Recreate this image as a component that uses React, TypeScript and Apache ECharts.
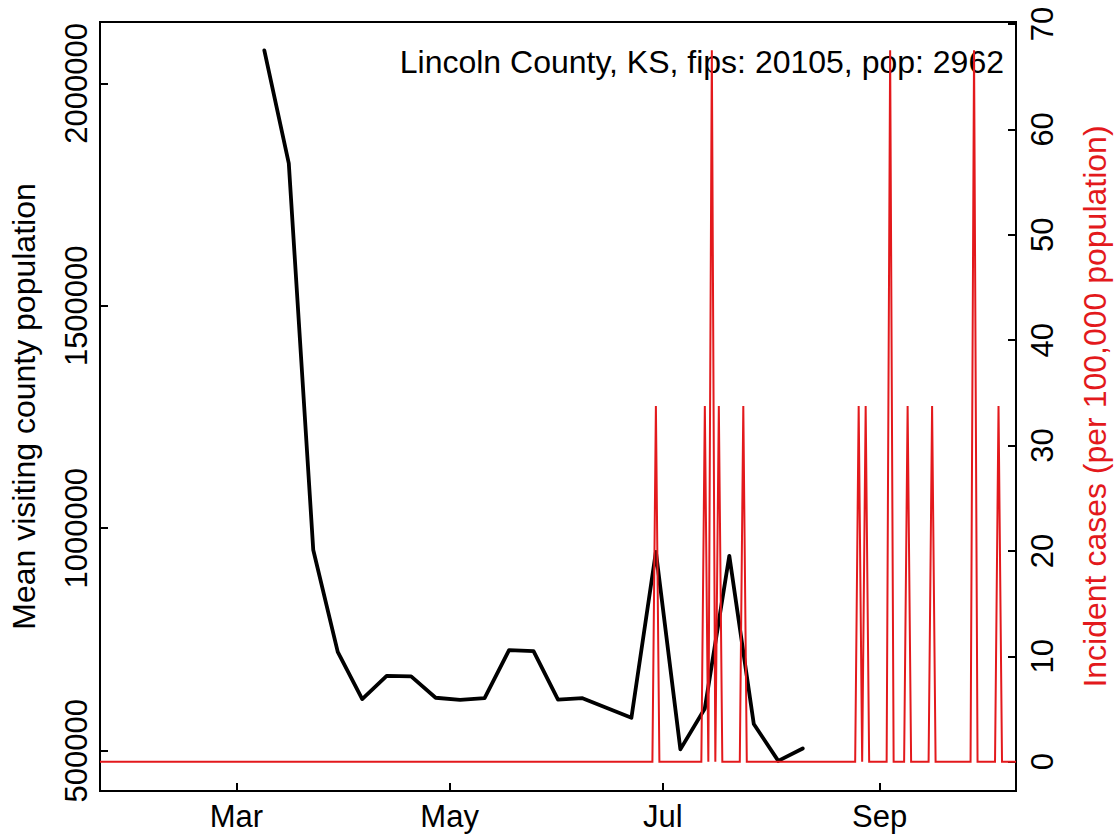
import React, { useEffect, useRef } from 'react';
import * as echarts from 'echarts';

const FONT = '"Liberation Sans", Arial, Helvetica, sans-serif';
const RED = '#e3191c';

// x range (dates)
const xAxisStart = '2020-01-22';
const xAxisEnd = '2020-10-10';
const monthTickDates = ['2020-03-01', '2020-05-01', '2020-07-01', '2020-09-01'];
const monthTickLabels = ['Mar', 'May', 'Jul', 'Sep'];

// left axis
const leftMin = 409400;
const leftMax = 2137800;
const leftTicks = [500000, 1000000, 1500000, 2000000];

// right axis
const rightMin = -2.78;
const rightMax = 70.19;
const rightTicks = [0, 10, 20, 30, 40, 50, 60, 70];

// mean visiting county population (weekly)
const visitDates = [
  '2020-03-09', '2020-03-16', '2020-03-23', '2020-03-30', '2020-04-06', '2020-04-13',
  '2020-04-20', '2020-04-27', '2020-05-04', '2020-05-11', '2020-05-18', '2020-05-25',
  '2020-06-01', '2020-06-08', '2020-06-22', '2020-06-29', '2020-07-06', '2020-07-13',
  '2020-07-20', '2020-07-27', '2020-08-03', '2020-08-10',
];
const visitValues = [
  2074000, 1820000, 951000, 722000, 616000, 668000,
  667000, 619000, 614000, 618000, 726000, 724000,
  615000, 618000, 574000, 947000, 503000, 595000,
  938000, 560000, 477000, 505000,
];

// incident cases per 100,000 (daily; all other days are 0)
const caseDates = [
  '2020-06-29', '2020-07-13', '2020-07-15', '2020-07-17', '2020-07-24', '2020-08-26',
  '2020-08-28', '2020-09-04', '2020-09-09', '2020-09-16', '2020-09-28', '2020-10-05',
];
const caseValues = [33.76, 33.76, 67.52, 33.76, 33.76, 33.76, 33.76, 67.52, 33.76, 33.76, 67.52, 33.76];

const annotation = 'Lincoln County, KS, fips: 20105, pop: 2962';
const leftTitle = 'Mean visiting county population';
const rightTitle = 'Incident cases (per 100,000 population)';

const DAY = 86400000;
// day number (days since 2020-01-01, UTC)
const day = (s: string) => (Date.parse(s + 'T00:00:00Z') - Date.parse('2020-01-01T00:00:00Z')) / DAY;

function buildDailyCases() {
  const map = new Map<number, number>();
  caseDates.forEach((d, i) => map.set(day(d), caseValues[i]));
  const out: [number, number][] = [];
  for (let t = day(xAxisStart); t <= day(xAxisEnd); t += 1) {
    out.push([t, map.get(t) ?? 0]);
  }
  return out;
}

export default function App() {
  const ref = useRef<HTMLDivElement>(null);
  useEffect(() => {
    if (!ref.current) return;
    const chart = echarts.init(ref.current, undefined, { renderer: 'svg' });
    const monthDays = monthTickDates.map(day);
    const labelMap = new Map<number, string>();
    monthDays.forEach((t, i) => labelMap.set(t, monthTickLabels[i]));

    const axisLine = { show: true, onZero: false, lineStyle: { color: '#000', width: 2 } };
    const axisTick = (vals: number[]) => ({
      show: true,
      inside: true,
      length: 8,
      customValues: vals,
      lineStyle: { color: '#000', width: 2 },
    });

    chart.setOption({
      animation: false,
      textStyle: { fontFamily: FONT },
      grid: {
        left: 99,
        right: 99,
        top: 22,
        bottom: 45,
        show: true,
        borderColor: '#000',
        borderWidth: 2,
        containLabel: false,
      },
      xAxis: {
        type: 'value',
        min: day(xAxisStart),
        max: day(xAxisEnd),
        axisLine,
        axisTick: axisTick(monthDays),
        splitLine: { show: false },
        axisLabel: {
          customValues: monthDays,
          formatter: (v: number) => labelMap.get(v) ?? '',
          color: '#000',
          fontSize: 31,
          fontFamily: FONT,
          margin: 10,
        },
      },
      yAxis: [
        {
          type: 'value',
          position: 'left',
          min: leftMin,
          max: leftMax,
          axisLine,
          axisTick: axisTick(leftTicks),
          splitLine: { show: false },
          axisLabel: {
            customValues: leftTicks,
            formatter: (v: number) => String(v),
            rotate: 90,
            color: '#000',
            fontSize: 31,
            fontFamily: FONT,
            margin: 8,
          },
          name: leftTitle,
          nameLocation: 'middle',
          nameRotate: 90,
          nameGap: 60,
          nameTextStyle: { color: '#000', fontSize: 32, fontFamily: FONT },
        },
        {
          type: 'value',
          position: 'right',
          min: rightMin,
          max: rightMax,
          axisLine,
          axisTick: axisTick(rightTicks),
          splitLine: { show: false },
          axisLabel: {
            customValues: rightTicks,
            formatter: (v: number) => String(v),
            rotate: 90,
            color: '#000',
            fontSize: 31,
            fontFamily: FONT,
            margin: 11,
          },
          name: rightTitle,
          nameLocation: 'middle',
          nameRotate: 90,
          nameGap: 63,
          nameTextStyle: { color: RED, fontSize: 32, fontFamily: FONT },
        },
      ],
      graphic: [
        {
          type: 'text',
          x: 1004,
          y: 61.5,
          z: 5,
          style: {
            text: annotation,
            fill: '#000',
            font: `32px ${FONT}`,
            textAlign: 'right',
            textVerticalAlign: 'middle',
          },
        },
      ],
      series: [
        {
          type: 'line',
          yAxisIndex: 0,
          data: visitDates.map((d, i) => [day(d), visitValues[i]]),
          showSymbol: false,
          lineStyle: { color: '#000', width: 3.8, join: 'round', cap: 'round' },
          z: 3,
        },
        {
          type: 'line',
          yAxisIndex: 1,
          data: buildDailyCases(),
          showSymbol: false,
          lineStyle: { color: RED, width: 2, join: 'miter' },
          z: 10,
        },
      ],
    });
    return () => chart.dispose();
  }, []);
  return (
    <div
      ref={ref}
      style={{ position: 'fixed', left: 0, top: 0, width: 1119, height: 836, background: '#fff' }}
    />
  );
}
